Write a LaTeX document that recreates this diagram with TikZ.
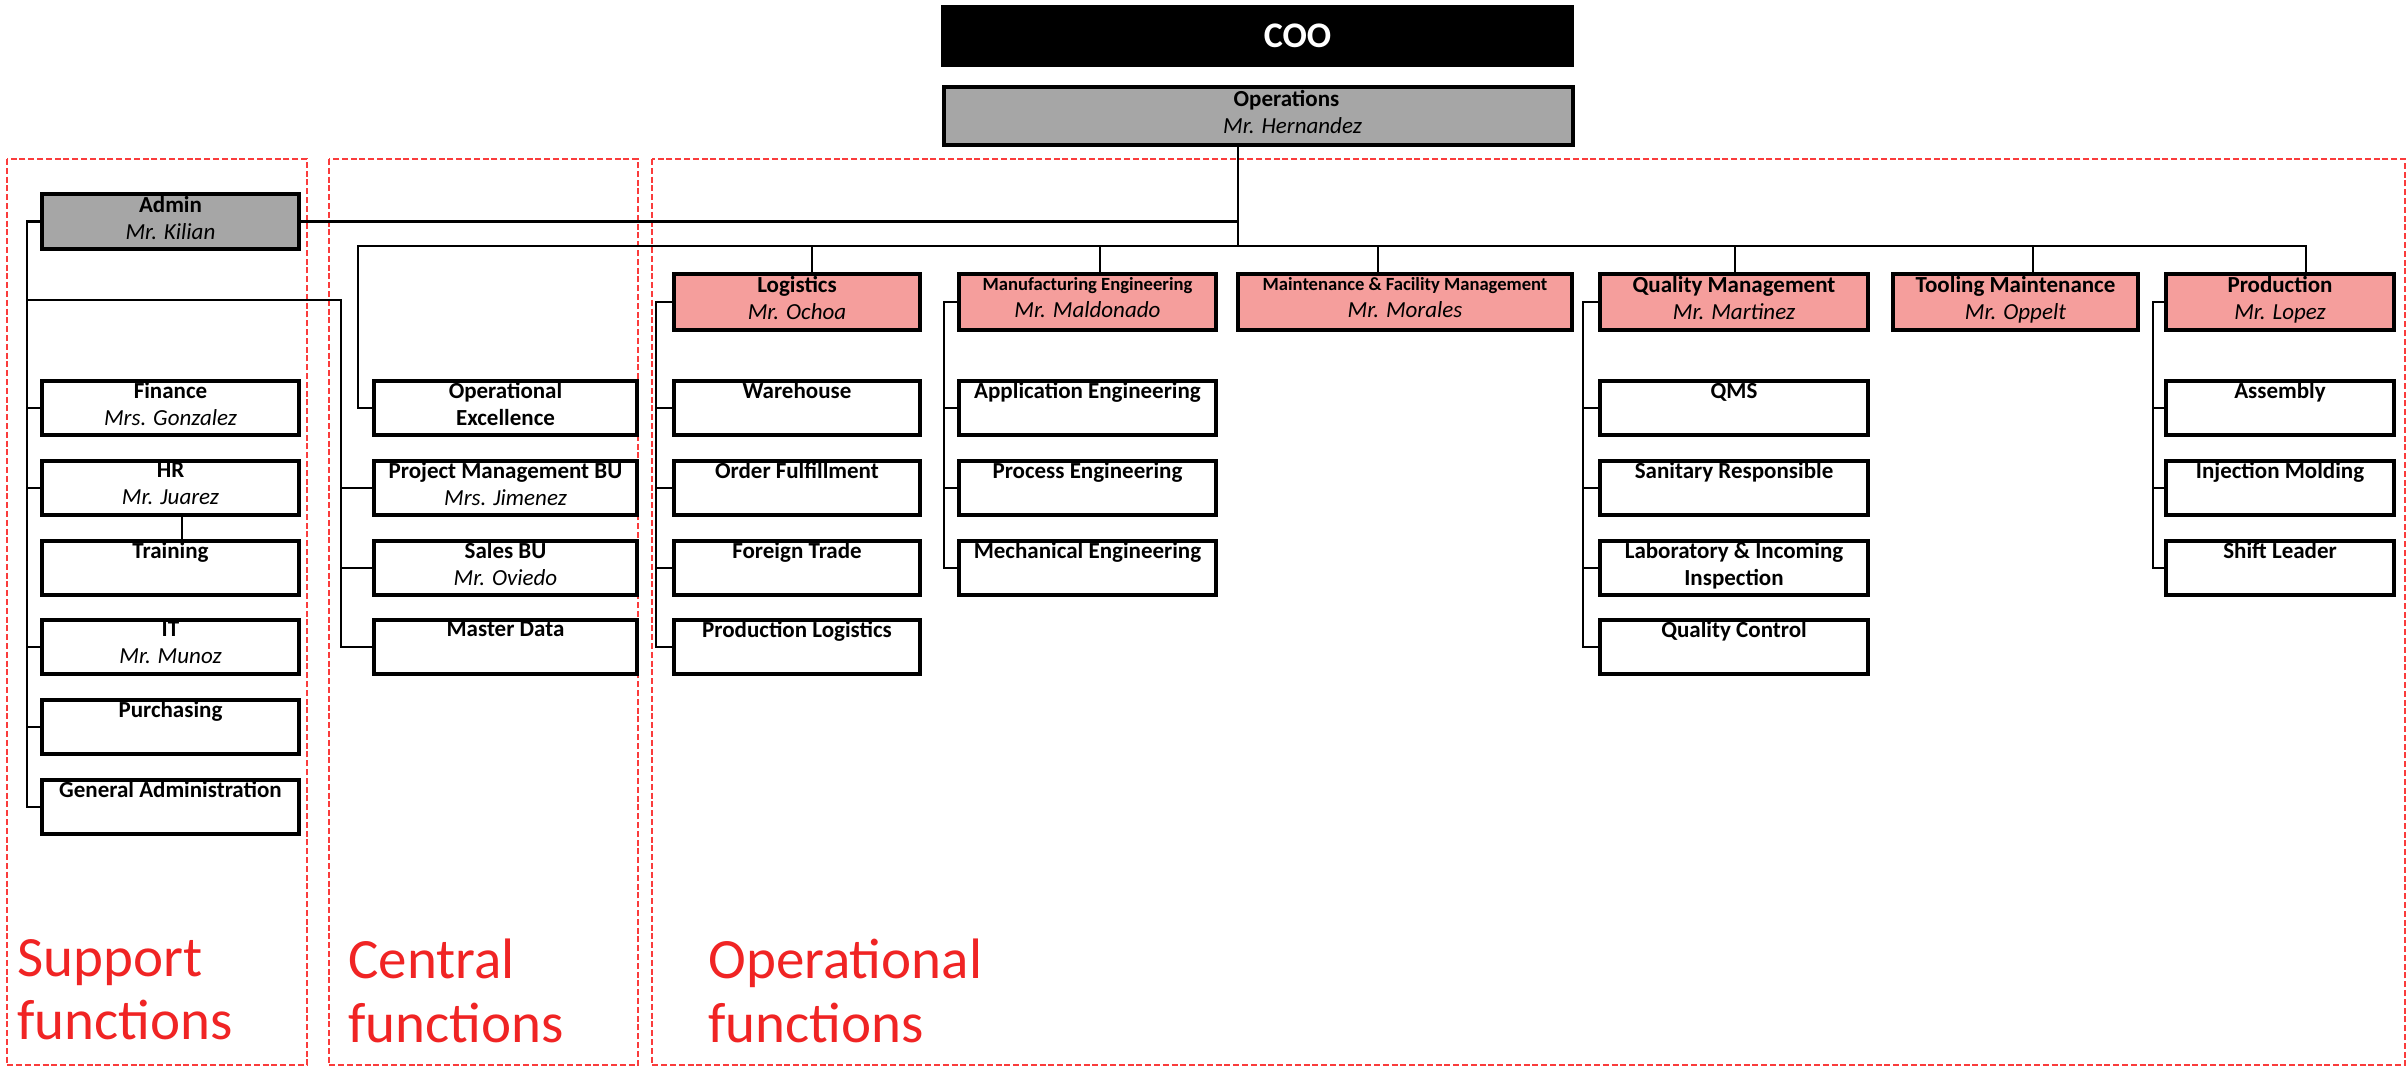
\documentclass[tikz,border=0pt]{standalone}
\usepackage{fontspec}
\setmainfont{Carlito}

\definecolor{boxgray}{RGB}{166,166,166}
\definecolor{headpink}{RGB}{245,158,156}
\definecolor{zonered}{RGB}{250,60,60}
\definecolor{labelred}{RGB}{240,36,36}

\newcommand{\who}[1]{{\mdseries\itshape #1}}
\newcommand{\smalltitle}[1]{{\fontsize{9.3}{13.5}\selectfont #1}}

\tikzset{
  orgbox/.style = {draw, line width=2pt, inner sep=0pt, anchor=north west, align=center},
  unit/.style = {orgbox, minimum height=27pt, font=\bfseries\fontsize{11.5}{13.5}\selectfont,
    execute at begin node=\strut, execute at end node=\strut},
  head/.style = {unit, fill=headpink, minimum height=28pt},
  graybox/.style = {unit, fill=boxgray, minimum height=28pt},
  link/.style = {line width=1.3pt},
  zone/.style = {draw=zonered, line width=0.8pt, dash pattern=on 3pt off 1.4pt},
  zonelabel/.style = {anchor=north west, inner sep=0pt, align=left, text=labelred,
    font=\fontsize{28.5}{31.7}\selectfont, execute at begin node=\strut}
}

\begin{document}
\begin{tikzpicture}[x=0.5pt, y=-0.5pt]
\useasboundingbox (0,0) rectangle (2408,1067);
\fill[white] (0,0) rectangle (2408,1067);

% the three areas
\draw[zone] (7,159) rectangle (307,1065);
\draw[zone] (329,159) rectangle (638,1065);
\draw[zone] (652,159) rectangle (2405,1065);
\node[zonelabel] (suplab) at (17,939) {Support\\functions};
\node[zonelabel] (cenlab) at (348,939) {Central\\functions};
\node[zonelabel] (oplab) at (708,939) {Operational\\functions};

% top
\node[orgbox, fill=black, text=white, minimum width=314.5pt, minimum height=29pt,
  font=\bfseries\fontsize{18}{20}\selectfont] (coo) at (941,5) {\hspace*{40pt}COO};
\node[graybox, minimum width=314.5pt, minimum height=29pt] (ops) at (942,85)
  {\hspace*{28pt}Operations\\\hspace*{34pt}\who{Mr. Hernandez}};

% support functions
\node[graybox, minimum width=128.5pt, minimum height=27.5pt] (admin) at (40,192) {Admin\\\who{Mr. Kilian}};
\node[unit, minimum width=128.5pt] (fin) at (40,379) {Finance\\\who{Mrs. Gonzalez}};
\node[unit, minimum width=128.5pt] (hr) at (40,459) {HR\\\who{Mr. Juarez}};
\node[unit, minimum width=128.5pt] (train) at (40,539) {Training\\};
\node[unit, minimum width=128.5pt] (it) at (40,618) {IT\\\who{Mr. Munoz}};
\node[unit, minimum width=128.5pt] (purch) at (40,698) {Purchasing\\};
\node[unit, minimum width=128.5pt] (ga) at (40,778) {General Administration\\};

% central functions
\node[unit, minimum width=131.5pt] (opex) at (372,379) {Operational\\Excellence};
\node[unit, minimum width=131.5pt] (pm) at (372,459) {Project Management BU\\\who{Mrs. Jimenez}};
\node[unit, minimum width=131.5pt] (sales) at (372,539) {Sales BU\\\who{Mr. Oviedo}};
\node[unit, minimum width=131.5pt] (md) at (372,618) {Master Data\\};

% operational functions
\node[head, minimum width=123pt] (logi) at (672,272) {Logistics\\\who{Mr. Ochoa}};
\node[head, minimum width=128.5pt] (mfg) at (957,272) {\smalltitle{Manufacturing Engineering}\\\who{Mr. Maldonado}};
\node[head, minimum width=167pt] (maint) at (1236,272) {\smalltitle{Maintenance \& Facility Management}\\\who{Mr. Morales}};
\node[head, minimum width=134pt] (qm) at (1598,272) {Quality Management\\\who{Mr. Martinez}};
\node[head, minimum width=122.5pt] (tool) at (1891,272) {Tooling Maintenance\\\who{Mr. Oppelt}};
\node[head, minimum width=114pt] (prod) at (2164,272) {Production\\\who{Mr. Lopez}};

\node[unit, minimum width=123pt] (wh) at (672,379) {Warehouse\\};
\node[unit, minimum width=123pt] (of) at (672,459) {Order Fulfillment\\};
\node[unit, minimum width=123pt] (ft) at (672,539) {Foreign Trade\\};
\node[unit, minimum width=123pt] (pl) at (672,618) {Production Logistics\\};

\node[unit, minimum width=128.5pt] (ae) at (957,379) {Application Engineering\\};
\node[unit, minimum width=128.5pt] (pe) at (957,459) {Process Engineering\\};
\node[unit, minimum width=128.5pt] (me) at (957,539) {Mechanical Engineering\\};

\node[unit, minimum width=134pt] (qms) at (1598,379) {QMS\\};
\node[unit, minimum width=134pt] (san) at (1598,459) {Sanitary Responsible\\};
\node[unit, minimum width=134pt] (lab) at (1598,539) {Laboratory \& Incoming\\Inspection};
\node[unit, minimum width=134pt] (qc) at (1598,618) {Quality Control\\};

\node[unit, minimum width=114pt] (asm) at (2164,379) {Assembly\\};
\node[unit, minimum width=114pt] (inj) at (2164,459) {Injection Molding\\};
\node[unit, minimum width=114pt] (sl) at (2164,539) {Shift Leader\\};

% main lines
\coordinate (hub) at (1238,246);
\draw[link] (ops.south -| hub) -- (hub);
\draw[link] (admin.east) -| (hub);
\draw[link] (opex.west) -- ++(-14,0) |- (hub);
\foreach \n/\x in {logi/812,mfg/1100,maint/1378,qm/1735,tool/2033,prod/2306}
  \draw[link] (hub) -| (\x,0 |- \n.north);

% support and central buses
\draw[link] (admin.west) -- ++(-13,0) coordinate (sb) |- (ga.west);
\foreach \n in {fin,hr,it,purch} \draw[link] (sb) |- (\n.west);
\draw[link] ([xshift=5.75pt]hr.south) -- ([xshift=5.75pt]train.north);
\coordinate (cb) at (341,300);
\draw[link] (sb |- cb) -- (cb) |- (md.west);
\foreach \n in {pm,sales} \draw[link] (cb) |- (\n.west);

% operational buses
\draw[link] (logi.west) -- ++(-16,0) coordinate (lb) |- (pl.west);
\foreach \n in {wh,of,ft} \draw[link] (lb) |- (\n.west);
\draw[link] (mfg.west) -- ++(-13,0) coordinate (mb) |- (me.west);
\foreach \n in {ae,pe} \draw[link] (mb) |- (\n.west);
\draw[link] (qm.west) -- ++(-15,0) coordinate (qb) |- (qc.west);
\foreach \n in {qms,san,lab} \draw[link] (qb) |- (\n.west);
\draw[link] (prod.west) -- ++(-11,0) coordinate (pb) |- (sl.west);
\foreach \n in {asm,inj} \draw[link] (pb) |- (\n.west);
\end{tikzpicture}
\end{document}
